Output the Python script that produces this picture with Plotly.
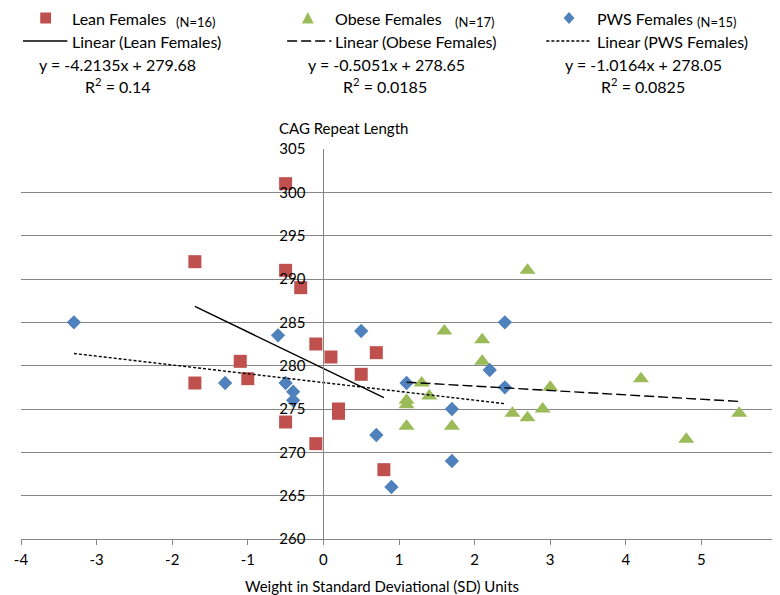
import plotly.graph_objects as go

# ---------------- data ----------------
lean_x = [-0.5, -1.7, -0.5, -0.3, -0.1, 0.1, 0.7, 0.5, -1.1, -1.0, -1.7, 0.2, 0.2, -0.5, -0.1, 0.8]
lean_y = [301, 292, 291, 289, 282.5, 281, 281.5, 279, 280.5, 278.5, 278, 275, 274.5, 273.5, 271, 268]

obese_x = [2.7, 1.6, 2.1, 2.1, 1.3, 1.4, 1.1, 1.1, 1.1, 1.7, 2.5, 2.7, 2.9, 3.0, 4.2, 4.8, 5.5]
obese_y = [291, 284, 283, 280.5, 278, 276.5, 276, 275.5, 273, 273, 274.5, 274, 275, 277.5, 278.5, 271.5, 274.5]

pws_x = [-3.3, -1.3, -0.6, -0.5, -0.4, -0.4, 0.5, 0.7, 0.9, 1.1, 1.7, 1.7, 2.2, 2.4, 2.4]
pws_y = [285, 278, 283.5, 278, 277, 276, 284, 272, 266, 278, 275, 269, 279.5, 285, 277.5]

series_names = ["Lean Females", "Obese Females", "PWS Females"]
series_n = ["(N=16)", "(N=17)", "(N=15)"]
trend_slope = [-4.2135, -0.5051, -1.0164]
trend_intercept = [279.68, 278.65, 278.05]
trend_r2 = ["0.14", "0.0185", "0.0825"]

x_ticks = [-4, -3, -2, -1, 0, 1, 2, 3, 4, 5, 6]
x_tick_text = ["-4", "-3", "-2", "-1", "0", "1", "2", "3", "4", "5", "6"]
y_ticks = [260, 265, 270, 275, 280, 285, 290, 295, 300, 305]

# ---------------- style ----------------
W, H = 780, 595
ML, MR, MT, MB = 7, 6, 141, 64
PW, PH = W - ML - MR, H - MT - MB
FONT = "Lato"
RED, GREEN, BLUE = "#C0504D", "#9BBB59", "#4F81BD"
GRID = "#868686"


def px(x):
    return (x - ML) / PW


def py(y):
    return (H - MB - y) / PH


fig = go.Figure()

xs = [lean_x, obese_x, pws_x]
ys = [lean_y, obese_y, pws_y]
symbols = ["square", "triangle-up", "diamond"]
colors = [RED, GREEN, BLUE]
sizes = [13, 14, 11]
dashes = ["solid", "10px,4px", "3px,2px"]

for i in range(3):
    fig.add_trace(go.Scatter(
        x=xs[i], y=ys[i], mode="markers", name=series_names[i],
        marker=dict(symbol=symbols[i], color=colors[i], size=sizes[i], line=dict(width=0)),
        showlegend=False,
    ))

for i in range(3):
    x0, x1 = min(xs[i]), max(xs[i])
    fig.add_trace(go.Scatter(
        x=[x0, x1],
        y=[trend_slope[i] * x0 + trend_intercept[i], trend_slope[i] * x1 + trend_intercept[i]],
        mode="lines", line=dict(color="black", width=1.4, dash=dashes[i]),
        showlegend=False, hoverinfo="skip",
    ))

fig.update_layout(
    width=W, height=H,
    margin=dict(l=ML, r=MR, t=MT, b=MB, pad=0),
    paper_bgcolor="white", plot_bgcolor="white",
    font=dict(family=FONT, color="black", size=15),
    xaxis=dict(
        range=[-4, 6], tickvals=x_ticks, ticktext=x_tick_text, showgrid=False, zeroline=False,
        showline=True, linecolor=GRID, linewidth=1,
        ticks="outside", ticklen=5, tickcolor=GRID,
        tickfont=dict(size=15), ticklabelstandoff=2, ticklabeloverflow="allow",
    ),
    yaxis=dict(
        range=[260, 305], tickvals=y_ticks, showgrid=True, gridcolor=GRID, gridwidth=1,
        zeroline=False, showline=True, linecolor=GRID, linewidth=1,
        anchor="free", position=0.4, side="left",
        ticks="", tickfont=dict(size=15), ticklabelstandoff=15,
    ),
)

shapes = []
annotations = []

# axis titles
annotations.append(dict(x=px(334), y=py(120), xref="paper", yref="paper", text="CAG Repeat Length",
                        showarrow=False, font=dict(size=15), xanchor="center", yanchor="middle"))
annotations.append(dict(x=px(373), y=py(578), xref="paper", yref="paper",
                        text="Weight in Standard Deviational (SD) Units",
                        showarrow=False, font=dict(size=15), xanchor="center", yanchor="middle"))

# legend-like header
ROW1, ROW2, ROW3, ROW4 = 10, 33, 56, 77.5
col_text_x = [57, 324, 589]
col_n_x = [162, 445, 691]
col_line_x = [(9, 54), (277, 322), (540, 584)]
col_eq_cx = [105, 378, 639]
col_r2_cx = [105, 376, 638]

# markers
shapes.append(dict(type="rect", xref="paper", yref="paper",
                   x0=px(26.5), x1=px(37.5), y0=py(ROW1 + 5.5), y1=py(ROW1 - 5.5),
                   fillcolor=RED, line=dict(width=0)))
cx = 298
shapes.append(dict(type="path", xref="paper", yref="paper",
                   path=f"M {px(cx-6)} {py(ROW1+5.5)} L {px(cx+6)} {py(ROW1+5.5)} L {px(cx)} {py(ROW1-6)} Z",
                   fillcolor=GREEN, line=dict(width=0)))
cx = 563
shapes.append(dict(type="path", xref="paper", yref="paper",
                   path=f"M {px(cx-5.5)} {py(ROW1)} L {px(cx)} {py(ROW1-6)} L {px(cx+5.5)} {py(ROW1)} L {px(cx)} {py(ROW1+6)} Z",
                   fillcolor=BLUE, line=dict(width=0)))

for i in range(3):
    annotations.append(dict(x=px(col_text_x[i]), y=py(ROW1), xref="paper", yref="paper",
                            text=series_names[i], showarrow=False, font=dict(size=16),
                            xanchor="left", yanchor="middle"))
    annotations.append(dict(x=px(col_n_x[i]), y=py(ROW1 + 4), xref="paper", yref="paper",
                            text=series_n[i], showarrow=False, font=dict(size=13),
                            xanchor="left", yanchor="middle"))
    a, b = col_line_x[i]
    shapes.append(dict(type="line", xref="paper", yref="paper", x0=px(a), x1=px(b),
                       y0=py(ROW2), y1=py(ROW2), line=dict(color="black", width=1.4, dash=dashes[i])))
    annotations.append(dict(x=px(col_text_x[i]), y=py(ROW2), xref="paper", yref="paper",
                            text=f"Linear ({series_names[i]})", showarrow=False, font=dict(size=16),
                            xanchor="left", yanchor="middle"))
    annotations.append(dict(x=px(col_eq_cx[i]), y=py(ROW3), xref="paper", yref="paper",
                            text=f"y = {trend_slope[i]:.4f}x + {trend_intercept[i]:.2f}",
                            showarrow=False, font=dict(size=16), xanchor="center", yanchor="middle"))
    annotations.append(dict(x=px(col_r2_cx[i]), y=py(ROW4), xref="paper", yref="paper",
                            text=f"R<sup>2</sup> = {trend_r2[i]}",
                            showarrow=False, font=dict(size=16), xanchor="center", yanchor="middle"))

fig.update_layout(shapes=shapes, annotations=annotations)
fig.write_html("out.html")
